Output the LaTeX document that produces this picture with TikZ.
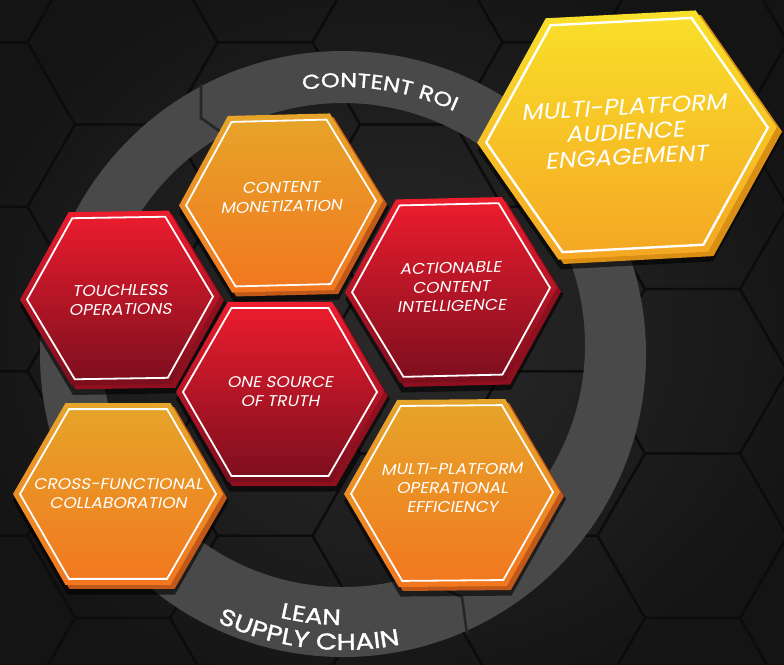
\documentclass[tikz,border=0pt]{standalone}
\usepackage{fontspec}
\setmainfont{Poppins}
\newfontfamily\hexfont{Poppins}[FakeSlant=0.2, FakeStretch=1.1]
\newfontfamily\ringfont{Poppins}[FakeBold=1.2, FakeStretch=1.2]
\usetikzlibrary{decorations.text,calc}
\definecolor{bgin}{HTML}{2A2A2A}
\definecolor{bgout}{HTML}{141414}
\definecolor{gridline}{HTML}{0C0C0C}
\definecolor{ringc}{HTML}{494949}
\definecolor{redtop}{HTML}{EE1D2E}
\definecolor{redmid}{HTML}{CC1A2A}
\definecolor{redbot}{HTML}{7A0E1E}
\definecolor{redside}{HTML}{8E101E}
\definecolor{orangetop}{HTML}{E6A52A}
\definecolor{orangemid}{HTML}{EE8C24}
\definecolor{orangebot}{HTML}{F2771F}
\definecolor{orangeside}{HTML}{C0581A}
\definecolor{yeltop}{HTML}{F9E02A}
\definecolor{yelmid}{HTML}{F7C026}
\definecolor{yelbot}{HTML}{F5A623}
\definecolor{yelside}{HTML}{D98E14}
\newcommand{\hexp}[1]{(0:#1) -- (60:#1) -- (120:#1) -- (180:#1) -- (240:#1) -- (300:#1) -- cycle}
\tikzset{
  hextext/.style={text=white, align=center, inner sep=0pt,
    font=\hexfont\fontsize{15.5}{19}\selectfont},
  bigtext/.style={text=white, align=center, inner sep=0pt,
    font=\hexfont\fontsize{22.5}{25}\selectfont},
  inline/.style={draw=white, line width=1.8pt, line join=miter},
  notch/.style={draw=black!85, line width=2.6pt},
}
% #1 name, #2 cx, #3 cy, #4 R, #5 rot, #6 type, #7 text dy, #8 text
\newcommand{\hexcell}[8]{%
  \pgfmathsetmacro{\Rsh}{#4+3}%
  \pgfmathsetmacro{\Rin}{#4-7}%
  \begin{scope}[shift={(#2,#3)}, rotate=#5]
    \fill[black, opacity=0.6, shift={(3,7)}] \hexp{\Rsh};
    \fill[#6side, shift={(4,4)}] \hexp{#4};
    \shade[top color=#6top, middle color=#6mid, bottom color=#6bot] \hexp{#4};
    \path[inline] \hexp{\Rin};
  \end{scope}
  \node[hextext, rotate=#5] (#1) at (#2,{#3+#7}) {#8};
}
\begin{document}
\begin{tikzpicture}[x=1pt,y=-1pt]
\useasboundingbox (0,0) rectangle (784,664);
\clip (0,0) rectangle (784,664);
% background
\shade[inner color=bgin, outer color=bgout] (-60,-60) rectangle (844,724);
\foreach \i in {-1,...,6}{
  \foreach \j in {-1,...,5}{
    \pgfmathsetmacro{\gx}{-20+\i*142.5}
    \pgfmathsetmacro{\gy}{-40+\j*164.5+mod(\i+2,2)*82.25}
    \draw[gridline, line width=2.4pt, opacity=0.8, shift={(\gx,\gy)}] \hexp{95};
  }
}
% ring
\coordinate (RC) at (343,354);
\coordinate (RI) at (343,345);
\fill[ringc, even odd rule] (RC) circle[radius=303] (RI) circle[radius=242];
\draw[notch] (201,84) -- (201,118) -- (228,137);
\draw[notch] (430,583) -- (462,597) -- (467,634);
% ring texts
\path[decorate, decoration={text along path, text align=center,
   text={|\ringfont\fontsize{20}{20}\selectfont\color{white}|CONTENT ROI}}]
   ($(RC)+(-122:267)$) arc[start angle=-122, end angle=-42, radius=267];
\path[decorate, decoration={text along path, text align=center,
   text={|\ringfont\fontsize{22}{22}\selectfont\color{white}|LEAN}}]
   ($(RC)+(137:271)$) arc[start angle=137, end angle=57, radius=271];
\path[decorate, decoration={text along path, text align=center,
   text={|\ringfont\fontsize{23}{23}\selectfont\color{white}|SUPPLY CHAIN}}]
   ($(RC)+(137:296)$) arc[start angle=137, end angle=57, radius=296];
% hexagons
\hexcell{cm}{281}{203}{102}{1.4}{orange}{-6}{CONTENT\\MONETIZATION}
\hexcell{to}{120}{298}{100}{0.9}{red}{2}{TOUCHLESS\\OPERATIONS}
\hexcell{aci}{451}{290}{106}{1.3}{red}{-3}{ACTIONABLE\\CONTENT\\INTELLIGENCE}
\hexcell{ost}{280}{392}{104}{0}{red}{0}{ONE SOURCE\\OF TRUTH}
\hexcell{cfc}{118}{494}{105}{0}{orange}{0}{CROSS-FUNCTIONAL\\COLLABORATION}
\hexcell{mpoe}{452}{493}{108}{0.5}{orange}{-5}{MULTI-PLATFORM\\OPERATIONAL\\EFFICIENCY}
% big hexagon
\begin{scope}[shift={(627,135)}, rotate=3, yscale=0.93]
  \fill[black, opacity=0.6, shift={(3,8)}] \hexp{153};
  \fill[yelside, shift={(5,5)}] \hexp{150};
  \shade[top color=yeltop, middle color=yelmid, bottom color=yelbot] \hexp{150};
  \path[inline, line width=2.4pt] \hexp{141};
\end{scope}
\node[bigtext, rotate=3] (mpae) at (625,132) {MULTI-PLATFORM\\AUDIENCE\\ENGAGEMENT};
\end{tikzpicture}
\end{document}
